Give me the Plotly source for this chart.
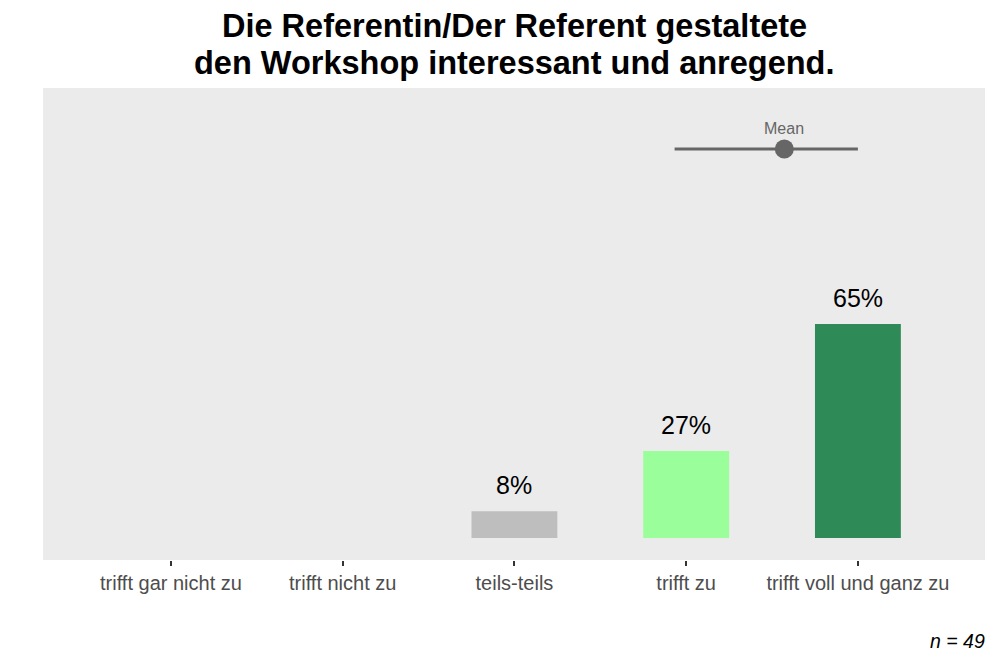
import plotly.graph_objects as go

categories = ["trifft gar nicht zu", "trifft nicht zu", "teils-teils", "trifft zu", "trifft voll und ganz zu"]
positions = [1, 2, 3, 4, 5]
counts = [0, 0, 4, 13, 32]
bar_colors = ["#BEBEBE", "#BEBEBE", "#BEBEBE", "#9AFF9A", "#2E8B57"]
n_total = 49
title_lines = ["Die Referentin/Der Referent gestaltete", "den Workshop interessant und anregend."]

percents = [c / n_total * 100 for c in counts]
mean_val = sum(p * c for p, c in zip(positions, counts)) / n_total
var = sum(c * (p - mean_val) ** 2 for p, c in zip(positions, counts)) / n_total
sd = var ** 0.5
lo = max(1, mean_val - sd)
hi = min(5, mean_val + sd)
mean_y = 118.7

FONT = "Liberation Sans, Arial, sans-serif"

fig = go.Figure()
show_idx = [i for i, c in enumerate(counts) if c > 0]
fig.add_trace(go.Bar(
    x=[positions[i] for i in show_idx],
    y=[percents[i] for i in show_idx],
    marker=dict(color=[bar_colors[i] for i in show_idx], line=dict(width=0)),
    width=0.5,
    hoverinfo="skip",
))
# mean +/- sd line
fig.add_trace(go.Scatter(
    x=[lo, hi], y=[mean_y, mean_y], mode="lines",
    line=dict(color="#666666", width=3), hoverinfo="skip",
))
fig.add_trace(go.Scatter(
    x=[mean_val], y=[mean_y], mode="markers",
    marker=dict(color="#666666", size=19), hoverinfo="skip",
))

for i in show_idx:
    fig.add_annotation(
        x=positions[i], y=percents[i], text=f"{round(percents[i])}%",
        showarrow=False, yanchor="middle", yshift=26,
        font=dict(family=FONT, size=25, color="#000000"),
    )

fig.add_annotation(
    x=mean_val, y=mean_y, text="Mean", showarrow=False,
    yanchor="middle", yshift=20,
    font=dict(family=FONT, size=16, color="#666666"),
)

for k, (line, ys) in enumerate(zip(title_lines, [62, 25])):
    fig.add_annotation(
        xref="paper", yref="paper", x=0.5, y=1, yshift=ys,
        text="<b>" + line + "</b>",
        showarrow=False, xanchor="center", yanchor="middle",
        font=dict(family=FONT, size=32.5, color="#000000"),
    )

fig.add_annotation(
    xref="paper", yref="paper", x=1, y=0, yshift=-81,
    text=f"<i>n = {n_total}</i>", showarrow=False,
    xanchor="right", yanchor="middle", xshift=2,
    font=dict(family=FONT, size=19.5, color="#000000"),
)

fig.update_layout(
    width=1000, height=666,
    margin=dict(l=43, r=15, t=88, b=106),
    paper_bgcolor="#FFFFFF",
    plot_bgcolor="#EBEBEB",
    showlegend=False,
    xaxis=dict(
        range=[0.255, 5.74], tickvals=positions, ticktext=categories,
        showgrid=False, zeroline=False, ticks="outside", ticklen=5, tickwidth=2,
        tickcolor="#333333",
        tickfont=dict(family=FONT, size=20, color="#4D4D4D"),
        fixedrange=True,
    ),
    yaxis=dict(
        range=[-6.7, 137.3], showgrid=False, zeroline=False,
        showticklabels=False, ticks="", fixedrange=True,
    ),
)

fig.write_html("out.html")
